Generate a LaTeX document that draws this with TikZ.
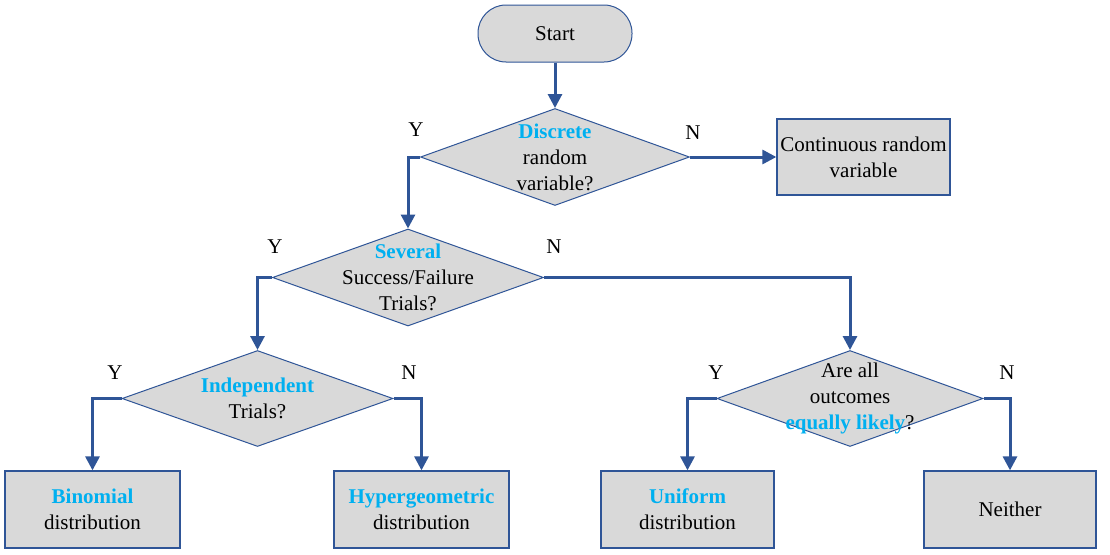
\documentclass[tikz,border=0pt]{standalone}
\usepackage{fontspec}
\setmainfont{Liberation Serif}
\usepackage{xcolor}
\usetikzlibrary{arrows.meta,shapes.geometric,positioning}

\definecolor{lineblue}{HTML}{2F5597}
\definecolor{keyblue}{HTML}{00B0F0}
\definecolor{boxgray}{HTML}{D9D9D9}
\newcommand{\kw}[1]{\textcolor{keyblue}{\textbf{#1}}}

\begin{document}
\begin{tikzpicture}[x=1pt,y=-1pt,font=\fontsize{21}{26}\selectfont,
  startbox/.style={draw=lineblue,line width=1pt,fill=boxgray,rounded corners=28pt,minimum width=154pt,minimum height=57pt},
  decision/.style={diamond,draw=lineblue,line width=1pt,fill=boxgray,inner sep=0pt,minimum width=270pt,minimum height=97pt},
  result/.style={draw=lineblue,line width=1.3pt,fill=boxgray,align=center,minimum width=173pt,minimum height=77pt},
  qtext/.style={align=center,inner sep=0pt},
  arr/.style={draw=lineblue,line width=3pt,-{Triangle[length=14pt,width=14pt]}}]
  \useasboundingbox (0,0) rectangle (1110,554);

  \node[startbox] (start) at (555,33.5) {Start};

  \node[decision,minimum width=269pt] (d1) at (555,157) {};
  \node[qtext] (q1) at (d1) {\kw{Discrete}\\random\\variable?};
  \node[result,minimum height=76pt] (cont) at (863.5,157) {Continuous random\\variable};

  \node[decision,minimum width=271pt] (d2) at (408,277.5) {};
  \node[qtext] (q2) at (d2) {\kw{Several}\\Success/Failure\\Trials?};

  \node[decision,minimum width=271pt,minimum height=96pt] (d3) at (257.5,398.5) {};
  \node[qtext] (q3) at (d3) {\kw{Independent}\\Trials?};

  \node[decision,minimum width=266pt,minimum height=96pt] (d4) at (850,398.5) {};
  \node[qtext] (q4) at (d4) {Are all\\outcomes\\\kw{equally likely}?};

  \node[result,minimum width=175pt] (binom) at (92.5,509.5) {\kw{Binomial}\\distribution};
  \node[result,minimum width=175pt] (hyper) at (421.5,509.5) {\kw{Hypergeometric}\\distribution};
  \node[result] (unif) at (687.5,509.5) {\kw{Uniform}\\distribution};
  \node[result,minimum width=172pt] (neither) at (1010,509.5) {Neither};

  % yes / no labels
  \node (y1) at (416,130) {Y};
  \node (n1) at (693,133) {N};
  \node (y2) at (275,247) {Y};
  \node (n2) at (554,247) {N};
  \node (y3) at (115,373) {Y};
  \node (n3) at (409,373) {N};
  \node (y4) at (716,373) {Y};
  \node (n4) at (1007,373) {N};

  \draw[arr] (start) -- (d1);
  \draw[arr] (d1.east) -- (cont.west);
  \draw[arr] (d1.west) -| (d2.north);
  \draw[arr] (d2.west) -| (d3.north);
  \draw[arr] (d2.east) -| (d4.north);
  \draw[arr] (d3.west) -| (binom.north);
  \draw[arr] (d3.east) -| (hyper.north);
  \draw[arr] (d4.west) -| (unif.north);
  \draw[arr] (d4.east) -| (neither.north);
\end{tikzpicture}
\end{document}
